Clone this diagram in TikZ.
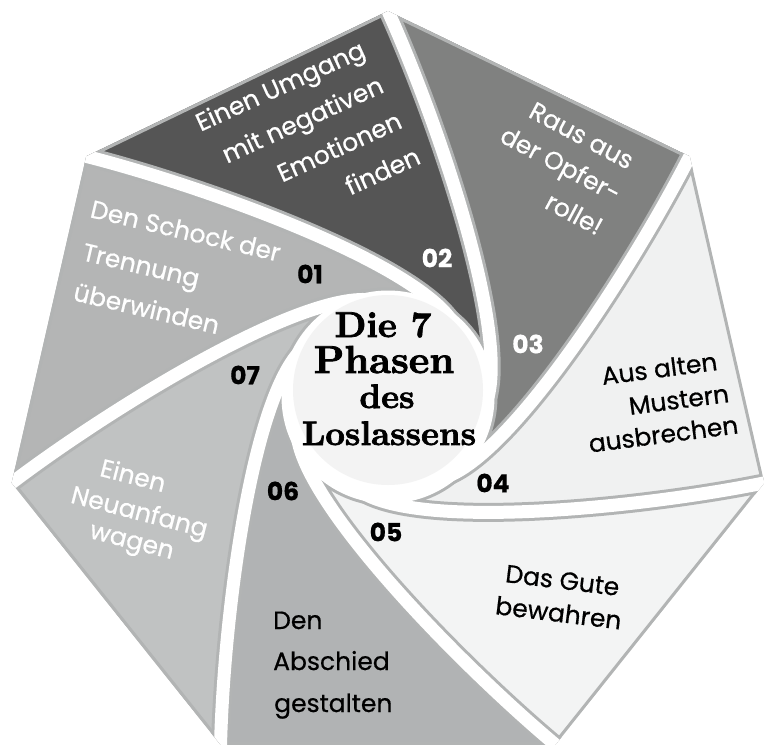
\documentclass[tikz,border=0pt]{standalone}
\usepackage{fontspec}
\newfontfamily\lab{Poppins}[FakeBold=0.6]
\newfontfamily\titlefont{lmroman10-bold.otf}[FakeBold=2]
\definecolor{bA}{RGB}{180,181,181}
\definecolor{bB}{RGB}{85,85,85}
\definecolor{bC}{RGB}{128,129,128}
\definecolor{bD}{RGB}{240,241,241}
\definecolor{bE}{RGB}{243,244,244}
\definecolor{bF}{RGB}{177,179,180}
\definecolor{bG}{RGB}{192,194,194}
\definecolor{rim}{RGB}{178,180,180}
\definecolor{disc}{RGB}{243,243,243}
\newcommand\hept{(90:386) -- (141.4286:386) -- (192.8571:386) -- (244.2857:386) -- (295.7143:386) -- (347.1429:386) -- (38.5714:386) -- cycle}
\newcommand\bladepath[1]{({#1+51.4286}:386) -- ({#1}:386) .. controls ({#1-9.8}:283.4) and ({#1-58.4}:140) .. ({#1-90}:100) arc[start angle={#1-90}, end angle={#1-38.5714}, radius=100] .. controls ({#1-6.97}:140) and ({#1+41.63}:283.4) .. ({#1+51.4286}:386) -- cycle}
\newcommand\frontpath[1]{({#1}:386) .. controls ({#1-9.8}:283.4) and ({#1-58.4}:140) .. ({#1-90}:100)}
\begin{document}
\begin{tikzpicture}[x=1pt,y=1pt,
  lbl/.style={font=\lab\fontsize{25}{30}\selectfont, inner sep=0pt},
  num/.style={font=\lab\bfseries\fontsize{25}{30}\selectfont, inner sep=0pt},
  ttl/.style={font=\titlefont\fontsize{34}{40}\selectfont, inner sep=0pt, anchor=base}]
\useasboundingbox (0,0) rectangle (765,-748);
\begin{scope}[shift={(388,-397)}]
  \clip \hept;
  \foreach \k/\c in {1/bA,2/bB,3/bC,4/bD,5/bE,6/bF,7/bG}{
    \pgfmathsetmacro\ph{141.4286-51.4286*(\k-1)}
    \fill[\c] \bladepath{\ph};
  }
  \foreach \k in {1,...,7}{
    \pgfmathsetmacro\ph{141.4286-51.4286*(\k-1)}
    \draw[rim, line width=19pt] \frontpath{\ph};
  }
  \draw[rim, line width=19pt] (0,0) circle[radius=100];
  \draw[rim, line width=6pt] \hept;
  \foreach \k in {1,...,7}{
    \pgfmathsetmacro\ph{141.4286-51.4286*(\k-1)}
    \draw[white, line width=13pt, line cap=round] \frontpath{\ph};
  }
  \draw[white, line width=13pt] (0,0) circle[radius=100];
  \fill[white] (0,0) circle[radius=100];
\end{scope}
\fill[disc] (388,-390) circle[radius=95];
% title
\node[ttl, font=\titlefont\fontsize{36}{40}\selectfont] (ti1) at (383,-337) {Die 7};
\node[ttl, font=\titlefont\fontsize{39}{40}\selectfont] (ti2) at (384,-373) {Phasen};
\node[ttl] (ti3) at (387,-408) {des};
\node[ttl] (ti4) at (389,-445) {Loslassens};
% blade 01
\node[lbl, white, rotate=-13.3, anchor=base west] (t1a) at (89,-217) {Den Schock der};
\node[lbl, white, rotate=-13.3, anchor=base west] (t1b) at (81,-260) {Trennung};
\node[lbl, white, rotate=-13.3, anchor=base west] (t1c) at (72,-300) {überwinden};
% blade 02
\node[lbl, white, rotate=24.5, anchor=base east] (t2a) at (367,-56) {Einen Umgang};
\node[lbl, white, rotate=24.5, anchor=base east] (t2b) at (385.4,-91.6) {mit negativen};
\node[lbl, white, rotate=24.5, anchor=base east] (t2c) at (403.8,-127.2) {Emotionen};
\node[lbl, white, rotate=24.5, anchor=base east] (t2d) at (422.2,-162.8) {finden};
% blade 03
\node[lbl, white, rotate=-28, anchor=base east] (t3a) at (628,-170) {Raus aus};
\node[lbl, white, rotate=-28, anchor=base east] (t3b) at (615,-203) {der Opfer-};
\node[lbl, white, rotate=-28, anchor=base east] (t3c) at (597,-236) {rolle!};
% blade 04
\node[lbl, black, rotate=7.4, anchor=base] (t4a) at (660.5,-377.5) {Aus alten};
\node[lbl, black, rotate=7.4, anchor=base] (t4b) at (680,-408.5) {Mustern};
\node[lbl, black, rotate=7.4, anchor=base] (t4c) at (664.5,-443) {ausbrechen};
% blade 05
\node[lbl, black, rotate=-7, anchor=base] (t5a) at (561.5,-589) {Das Gute};
\node[lbl, black, rotate=-7, anchor=base] (t5b) at (557.5,-621.8) {bewahren};
% blade 06
\node[lbl, black, anchor=base west] (t6a) at (273,-629) {Den};
\node[lbl, black, anchor=base west] (t6b) at (273,-670) {Abschied};
\node[lbl, black, anchor=base west] (t6c) at (274,-712) {gestalten};
% blade 07
\node[lbl, white, rotate=-14.5, anchor=base] (t7a) at (131,-484) {Einen};
\node[lbl, white, rotate=-14.5, anchor=base] (t7b) at (137.5,-520) {Neuanfang};
\node[lbl, white, rotate=-14.5, anchor=base] (t7c) at (130,-548.5) {wagen};
% numbers
\node[num, black] (n1) at (310,-274) {01};
\node[num, white] (n2) at (437,-258) {02};
\node[num, white] (n3) at (528,-344) {03};
\node[num, black] (n4) at (493,-483) {04};
\node[num, black] (n5) at (386,-532) {05};
\node[num, black] (n6) at (283,-491) {06};
\node[num, black] (n7) at (245,-375) {07};
\end{tikzpicture}
\end{document}
